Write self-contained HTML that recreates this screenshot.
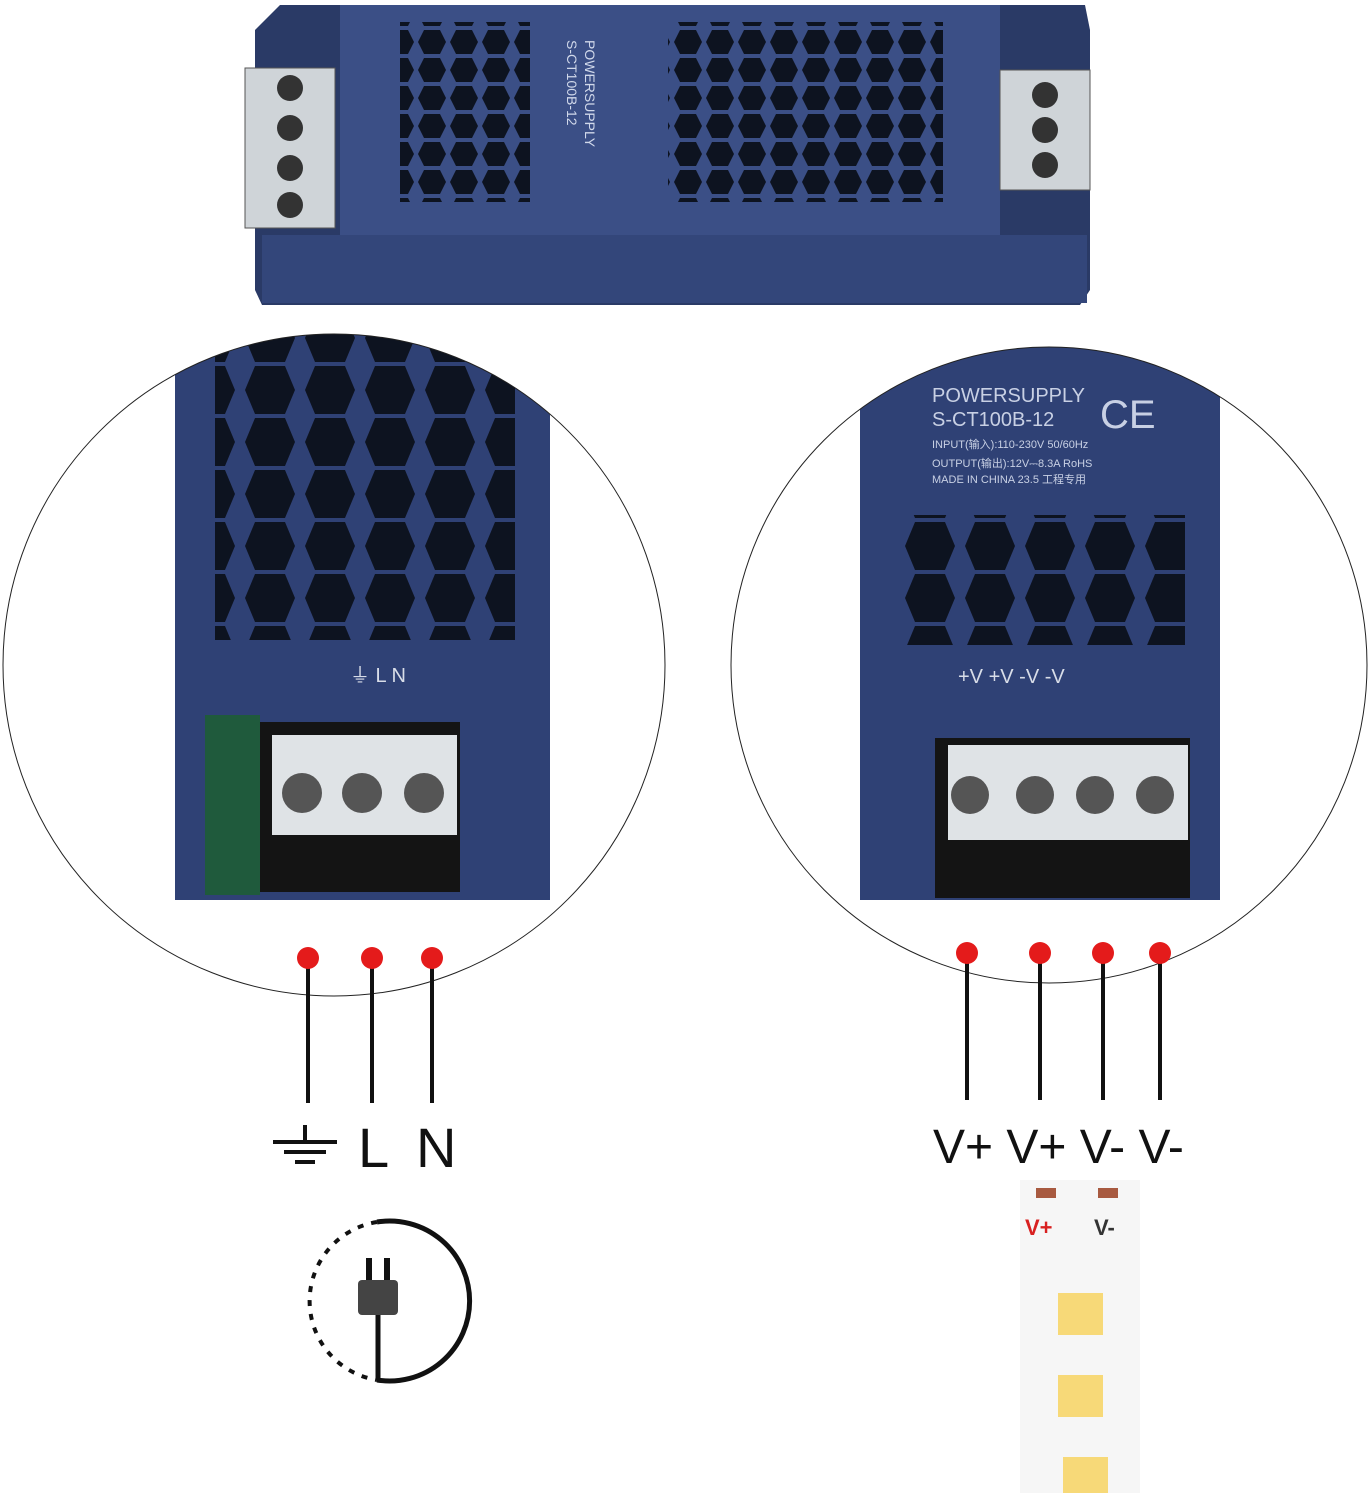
<!DOCTYPE html>
<html><head><meta charset="utf-8"><style>
body{margin:0;background:#fff;width:1369px;height:1493px;overflow:hidden}
svg{display:block}
text{font-family:"Liberation Sans",sans-serif}
</style></head><body>
<svg width="1369" height="1493" viewBox="0 0 1369 1493">
<defs>
<clipPath id="cl"><circle cx="334" cy="665" r="331"/></clipPath>
<clipPath id="cr"><circle cx="1049" cy="665" r="318"/></clipPath>
<pattern id="hex" width="60" height="52" patternUnits="userSpaceOnUse">
<polygon points="15,2 45,2 55,26 45,50 15,50 5,26" fill="#0d1320"/>
</pattern>
<pattern id="hexs" width="32" height="28" patternUnits="userSpaceOnUse">
<polygon points="8,2 24,2 30,14 24,26 8,26 2,14" fill="#0d1320"/>
</pattern>
</defs>
<!-- top power supply -->
<polygon points="255,30 280,5 1085,5 1090,30 1090,290 1080,305 262,305 255,290" fill="#2a3a66"/>
<rect x="262" y="235" width="825" height="68" fill="#33467a"/>
<rect x="340" y="5" width="660" height="230" fill="#3b4f86"/>
<rect x="400" y="22" width="130" height="180" fill="url(#hexs)"/>
<rect x="668" y="22" width="275" height="180" fill="url(#hexs)"/>
<text x="0" y="0" transform="translate(585,40) rotate(90)" font-size="14" fill="#d0d8ea">POWERSUPPLY</text>
<text x="0" y="0" transform="translate(567,40) rotate(90)" font-size="14" fill="#d0d8ea">S-CT100B-12</text>
<rect x="245" y="68" width="90" height="160" fill="#cfd4d8" stroke="#555"/>
<circle cx="290" cy="88" r="13" fill="#333"/><circle cx="290" cy="128" r="13" fill="#333"/><circle cx="290" cy="168" r="13" fill="#333"/><circle cx="290" cy="205" r="13" fill="#333"/>
<rect x="1000" y="70" width="90" height="120" fill="#cfd4d8" stroke="#555"/>
<circle cx="1045" cy="95" r="13" fill="#333"/><circle cx="1045" cy="130" r="13" fill="#333"/><circle cx="1045" cy="165" r="13" fill="#333"/>
<!-- left circle -->
<g clip-path="url(#cl)">
<rect x="175" y="330" width="375" height="570" fill="#2f4175"/>
<rect x="215" y="330" width="300" height="310" fill="url(#hex)"/>
<rect x="260" y="722" width="200" height="170" fill="#141414"/>
<rect x="272" y="735" width="185" height="100" fill="#dfe3e6"/>
<circle cx="302" cy="793" r="20" fill="#555"/><circle cx="362" cy="793" r="20" fill="#555"/><circle cx="424" cy="793" r="20" fill="#555"/>
<rect x="205" y="715" width="55" height="180" fill="#1f5a3c"/>
<text x="350" y="682" font-size="20" fill="#d8dde8">⏚  L   N</text>
</g>
<circle cx="334" cy="665" r="331" fill="none" stroke="#222" stroke-width="1"/>
<!-- right circle -->
<g clip-path="url(#cr)">
<rect x="860" y="340" width="360" height="560" fill="#2f4175"/>
<text x="932" y="402" font-size="20" fill="#c8d0e4">POWERSUPPLY</text>
<text x="932" y="426" font-size="20" fill="#c8d0e4">S-CT100B-12</text>
<text x="1100" y="428" font-size="40" fill="#c8d0e4">CE</text>
<text x="932" y="448" font-size="11" fill="#c8d0e4">INPUT(输入):110-230V 50/60Hz</text>
<text x="932" y="467" font-size="11" fill="#c8d0e4">OUTPUT(输出):12V⎓8.3A   RoHS</text>
<text x="932" y="483" font-size="11" fill="#c8d0e4">MADE IN CHINA 23.5  工程专用</text>
<rect x="905" y="515" width="280" height="130" fill="url(#hex)"/>
<text x="958" y="683" font-size="20" fill="#d8dde8">+V +V -V -V</text>
<rect x="935" y="738" width="255" height="160" fill="#141414"/>
<rect x="948" y="745" width="240" height="95" fill="#dfe3e6"/>
<circle cx="970" cy="795" r="19" fill="#555"/><circle cx="1035" cy="795" r="19" fill="#555"/><circle cx="1095" cy="795" r="19" fill="#555"/><circle cx="1155" cy="795" r="19" fill="#555"/>
</g>
<circle cx="1049" cy="665" r="318" fill="none" stroke="#222" stroke-width="1"/>
<!-- wires -->
<g stroke="#111" stroke-width="4">
<line x1="308" y1="958" x2="308" y2="1103"/><line x1="372" y1="958" x2="372" y2="1103"/><line x1="432" y1="958" x2="432" y2="1103"/>
<line x1="967" y1="953" x2="967" y2="1100"/><line x1="1040" y1="953" x2="1040" y2="1100"/><line x1="1103" y1="953" x2="1103" y2="1100"/><line x1="1160" y1="953" x2="1160" y2="1100"/>
</g>
<g fill="#e41b1b">
<circle cx="308" cy="958" r="11"/><circle cx="372" cy="958" r="11"/><circle cx="432" cy="958" r="11"/>
<circle cx="967" cy="953" r="11"/><circle cx="1040" cy="953" r="11"/><circle cx="1103" cy="953" r="11"/><circle cx="1160" cy="953" r="11"/>
</g>
<!-- labels -->
<g stroke="#111" stroke-width="4"><line x1="305" y1="1125" x2="305" y2="1142"/><line x1="273" y1="1142" x2="337" y2="1142"/><line x1="284" y1="1152" x2="326" y2="1152"/><line x1="295" y1="1162" x2="315" y2="1162"/></g>
<text x="358" y="1167" font-size="56" fill="#111">L</text>
<text x="416" y="1167" font-size="56" fill="#111">N</text>
<text x="933" y="1163" font-size="48" fill="#111">V+ V+  V-  V-</text>
<!-- plug icon -->
<path d="M377,1222 A80,80 0 1,1 377,1380" fill="none" stroke="#111" stroke-width="5"/>
<path d="M377,1222 A80,80 0 0,0 377,1380" fill="none" stroke="#111" stroke-width="4" stroke-dasharray="6,8"/>
<rect x="358" y="1280" width="40" height="35" rx="4" fill="#444"/>
<rect x="366" y="1258" width="6" height="22" fill="#111"/><rect x="384" y="1258" width="6" height="22" fill="#111"/>
<line x1="378" y1="1315" x2="378" y2="1380" stroke="#111" stroke-width="5"/>
<!-- LED strip -->
<rect x="1020" y="1180" width="120" height="313" fill="#f6f6f6"/>
<rect x="1036" y="1188" width="20" height="10" fill="#a85a40"/><rect x="1098" y="1188" width="20" height="10" fill="#a85a40"/>
<text x="1025" y="1235" font-size="22" font-weight="bold" fill="#d82020">V+</text>
<text x="1094" y="1235" font-size="22" font-weight="bold" fill="#333">V-</text>
<rect x="1058" y="1293" width="45" height="42" fill="#f7d978"/>
<rect x="1058" y="1375" width="45" height="42" fill="#f7d978"/>
<rect x="1063" y="1457" width="45" height="36" fill="#f7d978"/>
</svg>
</body></html>
